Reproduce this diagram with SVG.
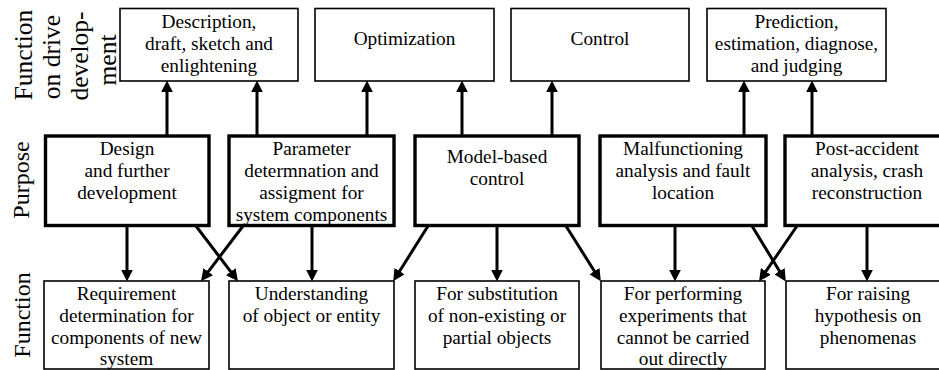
<svg xmlns="http://www.w3.org/2000/svg" width="939" height="370" viewBox="0 0 939 370">
  <style>
    text { font-family: "Liberation Serif", "Times New Roman", serif; fill: #000; }
    .lbl { font-size: 19.3px; text-anchor: middle; }
    .side { font-size: 24px; text-anchor: middle; }
    .side-top { font-size: 25.5px; text-anchor: middle; }
    .thin { fill: #fff; stroke: #000; stroke-width: 1.6; }
    .thick { fill: #fff; stroke: #000; stroke-width: 3.4; }
    .conn { stroke: #000; stroke-width: 3; fill: none; marker-end: url(#arrow); }
  </style>
  <defs>
    <marker id="arrow" markerUnits="userSpaceOnUse" markerWidth="12" markerHeight="12" viewBox="0 0 10 10" refX="2" refY="5" orient="auto">
      <path d="M0,0 L10,5 L0,10 z" fill="#000"/>
    </marker>
  </defs>

  <rect width="939" height="370" fill="#fff"/>

  <!-- row labels -->
  <g id="label-top">
    <text class="side-top" transform="translate(32,55) rotate(-90)">Function</text>
    <text class="side-top" transform="translate(60,57) rotate(-90)">on drive</text>
    <text class="side-top" transform="translate(88,56) rotate(-90)">develop-</text>
    <text class="side-top" transform="translate(116,60) rotate(-90)">ment</text>
  </g>
  <g id="label-purpose">
    <text class="side" transform="translate(29,180) rotate(-90)">Purpose</text>
  </g>
  <g id="label-function">
    <text class="side" transform="translate(30,315) rotate(-90)">Function</text>
  </g>

  <!-- connectors -->
  <g id="connectors">
    <!-- purpose to development function -->
    <line class="conn" x1="167" y1="135" x2="167" y2="90"/>
    <line class="conn" x1="257" y1="135" x2="257" y2="90"/>
    <line class="conn" x1="367" y1="135" x2="367" y2="90"/>
    <line class="conn" x1="462" y1="135" x2="462" y2="90"/>
    <line class="conn" x1="552" y1="135" x2="552" y2="90"/>
    <line class="conn" x1="744" y1="135" x2="744" y2="90"/>
    <line class="conn" x1="812" y1="135" x2="812" y2="90"/>
    <!-- purpose to function -->
    <line class="conn" x1="127" y1="227" x2="127" y2="272"/>
    <line class="conn" x1="312" y1="227" x2="312" y2="272"/>
    <line class="conn" x1="497" y1="227" x2="497" y2="272"/>
    <line class="conn" x1="675" y1="227" x2="675" y2="272"/>
    <line class="conn" x1="867" y1="227" x2="867" y2="272"/>
    <line class="conn" x1="196" y1="226" x2="232.2" y2="273.6"/>
    <line class="conn" x1="243" y1="226" x2="206.8" y2="273.6"/>
    <line class="conn" x1="428" y1="226" x2="398.3" y2="273.2"/>
    <line class="conn" x1="566" y1="226" x2="595.7" y2="273.2"/>
    <line class="conn" x1="752" y1="226" x2="780.8" y2="273.2"/>
    <line class="conn" x1="797" y1="226" x2="764.5" y2="273.4"/>
  </g>

  <!-- development functions -->
  <g id="dev-description">
    <rect class="thin" x="120" y="8.5" width="178" height="72.5"/>
    <text class="lbl" x="209" y="28">Description,</text>
    <text class="lbl" x="209" y="50">draft, sketch and</text>
    <text class="lbl" x="209" y="72">enlightening</text>
  </g>
  <g id="dev-optimization">
    <rect class="thin" x="315" y="8.5" width="179" height="72.5"/>
    <text class="lbl" x="404.5" y="45">Optimization</text>
  </g>
  <g id="dev-control">
    <rect class="thin" x="511" y="8.5" width="178" height="72.5"/>
    <text class="lbl" x="600" y="45">Control</text>
  </g>
  <g id="dev-prediction">
    <rect class="thin" x="707" y="8.5" width="179" height="72.5"/>
    <text class="lbl" x="796.5" y="28">Prediction,</text>
    <text class="lbl" x="796.5" y="50">estimation, diagnose,</text>
    <text class="lbl" x="796.5" y="72">and judging</text>
  </g>

  <!-- purposes -->
  <g id="purpose-design">
    <rect class="thick" x="45.5" y="136" width="163.5" height="89.5"/>
    <text class="lbl" x="127" y="155">Design</text>
    <text class="lbl" x="127" y="177">and further</text>
    <text class="lbl" x="127" y="199">development</text>
  </g>
  <g id="purpose-parameter">
    <rect class="thick" x="229" y="136" width="165" height="89.5"/>
    <text class="lbl" x="311.5" y="155">Parameter</text>
    <text class="lbl" x="311.5" y="177">determnation and</text>
    <text class="lbl" x="311.5" y="199">assigment for</text>
    <text class="lbl" x="311.5" y="221">system components</text>
  </g>
  <g id="purpose-control">
    <rect class="thick" x="415" y="136" width="164" height="89.5"/>
    <text class="lbl" x="497" y="163">Model-based</text>
    <text class="lbl" x="497" y="185">control</text>
  </g>
  <g id="purpose-malfunction">
    <rect class="thick" x="600" y="136" width="166" height="89.5"/>
    <text class="lbl" x="683" y="155">Malfunctioning</text>
    <text class="lbl" x="683" y="177">analysis and fault</text>
    <text class="lbl" x="683" y="199">location</text>
  </g>
  <g id="purpose-accident">
    <rect class="thick" x="785" y="136" width="165" height="89.5"/>
    <text class="lbl" x="867" y="155">Post-accident</text>
    <text class="lbl" x="867" y="177">analysis, crash</text>
    <text class="lbl" x="867" y="199">reconstruction</text>
  </g>

  <!-- functions -->
  <g id="fn-requirement">
    <rect class="thin" x="44" y="281" width="165" height="88"/>
    <text class="lbl" x="126.5" y="300">Requirement</text>
    <text class="lbl" x="126.5" y="322">determination for</text>
    <text class="lbl" x="126.5" y="344">components of new</text>
    <text class="lbl" x="126.5" y="365">system</text>
  </g>
  <g id="fn-understanding">
    <rect class="thin" x="229" y="281" width="165" height="88"/>
    <text class="lbl" x="311.5" y="300">Understanding</text>
    <text class="lbl" x="311.5" y="322">of object or entity</text>
  </g>
  <g id="fn-substitution">
    <rect class="thin" x="415" y="281" width="164" height="88"/>
    <text class="lbl" x="497" y="300">For substitution</text>
    <text class="lbl" x="497" y="322">of non-existing or</text>
    <text class="lbl" x="497" y="344">partial objects</text>
  </g>
  <g id="fn-experiments">
    <rect class="thin" x="601" y="281" width="164" height="88"/>
    <text class="lbl" x="683" y="300">For performing</text>
    <text class="lbl" x="683" y="322">experiments that</text>
    <text class="lbl" x="683" y="344">cannot be carried</text>
    <text class="lbl" x="683" y="365">out directly</text>
  </g>
  <g id="fn-hypothesis">
    <rect class="thin" x="786" y="281" width="164" height="88"/>
    <text class="lbl" x="868" y="300">For raising</text>
    <text class="lbl" x="868" y="322">hypothesis on</text>
    <text class="lbl" x="868" y="344">phenomenas</text>
  </g>
</svg>
